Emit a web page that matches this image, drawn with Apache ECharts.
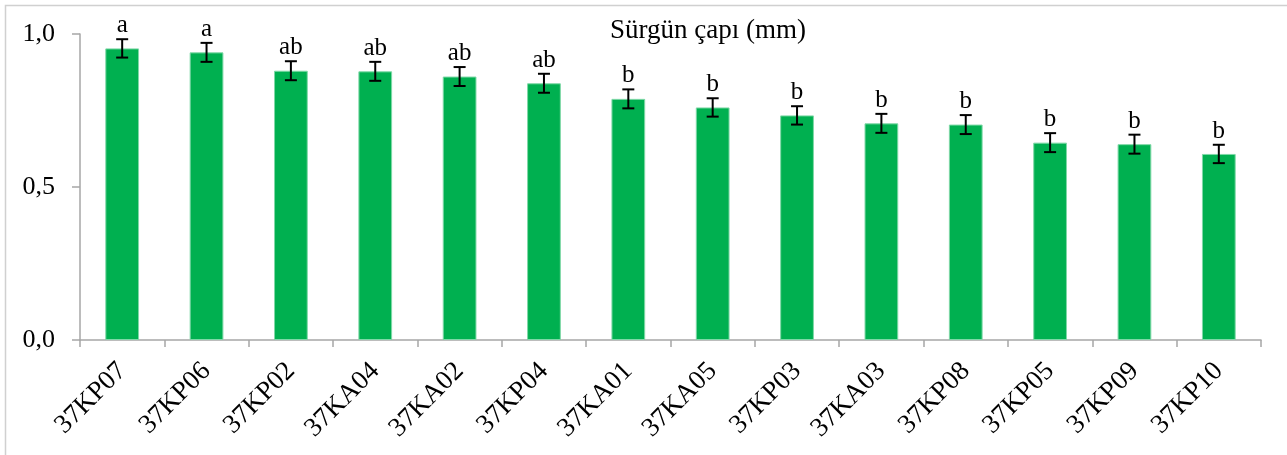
<!DOCTYPE html>
<html>
<head>
<meta charset="utf-8">
<script src="https://cdn.jsdelivr.net/npm/echarts@6/dist/echarts.min.js"></script>
<style>
  html, body { margin: 0; padding: 0; background: #fff; }
  #chart { width: 1287px; height: 455px; }
</style>
</head>
<body>
<div id="chart"></div>
<script>
const categories = ['37KP07', '37KP06', '37KP02', '37KA04', '37KA02', '37KP04', '37KA01',
  '37KA05', '37KP03', '37KA03', '37KP08', '37KP05', '37KP09', '37KP10'];
const means = [0.953, 0.940, 0.880, 0.878, 0.861, 0.839, 0.788, 0.760, 0.734, 0.708, 0.704, 0.645, 0.640, 0.608];
const errors = [0.030, 0.031, 0.031, 0.031, 0.031, 0.031, 0.031, 0.030, 0.030, 0.031, 0.031, 0.031, 0.031, 0.030];
const letters = ['a', 'a', 'ab', 'ab', 'ab', 'ab', 'b', 'b', 'b', 'b', 'b', 'b', 'b', 'b'];
const yTickLabels = { 0: '0,0', 0.5: '0,5', 1: '1,0' };

const serif = '"Liberation Serif", "Times New Roman", serif';
const axisGray = '#a6a6a6';

const chart = echarts.init(document.getElementById('chart'), null, { renderer: 'canvas' });

const errData = categories.map((c, i) => [i, means[i] - errors[i], means[i] + errors[i]]);

chart.setOption({
  animation: false,
  backgroundColor: '#fff',
  textStyle: { fontFamily: serif },
  title: {
    text: 'Sürgün çapı (mm)',
    left: 605,
    top: 12,
    textStyle: { fontFamily: serif, fontSize: 27, fontWeight: 'normal', color: '#000' },
  },
  graphic: [
    {
      type: 'rect',
      shape: { x: 5.5, y: 5.5, width: 1290, height: 460 },
      style: { fill: 'none', stroke: '#d0d0d0', lineWidth: 1.5 },
      silent: true,
    },
  ],
  grid: { left: 80, right: 26, top: 34, bottom: 115 },
  xAxis: {
    type: 'category',
    data: categories,
    axisLine: { lineStyle: { color: axisGray, width: 1.5 } },
    axisTick: { show: true, length: 7, lineStyle: { color: axisGray, width: 1.5 } },
    axisLabel: {
      rotate: 45,
      interval: 0,
      margin: 27,
      fontFamily: serif,
      fontSize: 27,
      color: '#000',
    },
  },
  yAxis: {
    type: 'value',
    min: 0,
    max: 1,
    interval: 0.5,
    splitLine: { show: false },
    axisLine: { show: true, lineStyle: { color: axisGray, width: 1.5 } },
    axisTick: { show: true, length: 8, lineStyle: { color: axisGray, width: 1.5 } },
    axisLabel: {
      margin: 25,
      fontFamily: serif,
      fontSize: 26,
      color: '#000',
      formatter: (v) => yTickLabels[v] ?? '',
    },
  },
  series: [
    {
      type: 'bar',
      data: means,
      barWidth: '40%',
      itemStyle: { color: '#00b050', borderColor: '#7fd8a7', borderWidth: 1 },
    },
    {
      type: 'custom',
      data: errData,
      z: 10,
      renderItem: (params, api) => {
        const i = api.value(0);
        const lo = api.coord([i, api.value(1)]);
        const hi = api.coord([i, api.value(2)]);
        const half = 6;
        const st = { stroke: '#000', lineWidth: 2 };
        return {
          type: 'group',
          children: [
            { type: 'line', shape: { x1: hi[0], y1: hi[1], x2: lo[0], y2: lo[1] }, style: st },
            { type: 'line', shape: { x1: hi[0] - half, y1: hi[1], x2: hi[0] + half, y2: hi[1] }, style: st },
            { type: 'line', shape: { x1: lo[0] - half, y1: lo[1], x2: lo[0] + half, y2: lo[1] }, style: st },
            {
              type: 'text',
              style: {
                text: letters[i],
                x: hi[0],
                y: hi[1] - 1,
                align: 'center',
                verticalAlign: 'bottom',
                font: '25px ' + serif,
                fill: '#000',
              },
            },
          ],
        };
      },
    },
  ],
});
</script>
</body>
</html>
